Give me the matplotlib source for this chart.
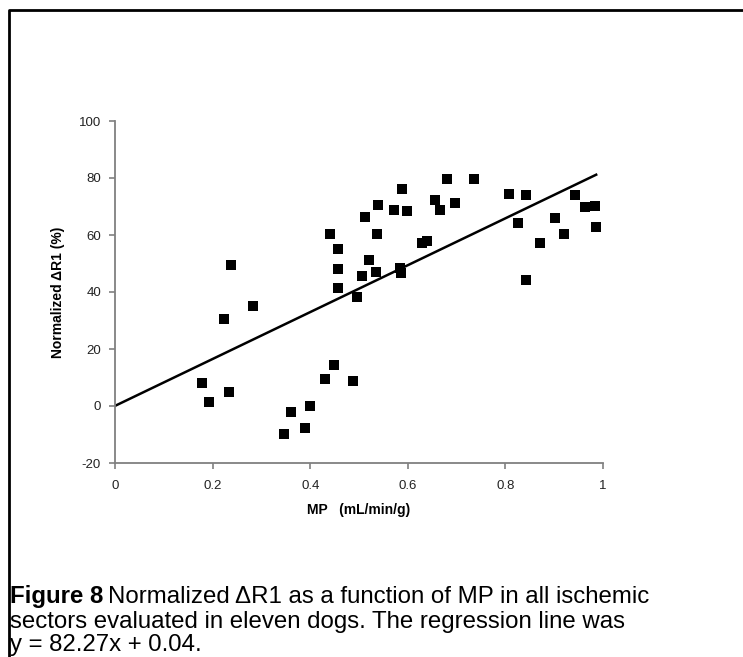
import matplotlib
matplotlib.use("Agg")
import matplotlib.pyplot as plt
from matplotlib.lines import Line2D
import numpy as np

# MP (mL/min/g) vs normalized delta R1 (%)
mp = [0.179, 0.193, 0.223, 0.237, 0.234, 0.282, 0.346, 0.361, 0.389, 0.400,
      0.430, 0.449, 0.441, 0.456, 0.456, 0.456, 0.487, 0.496, 0.506, 0.513,
      0.521, 0.535, 0.537, 0.538, 0.571, 0.588, 0.587, 0.585, 0.599, 0.630,
      0.640, 0.655, 0.665, 0.681, 0.696, 0.736, 0.807, 0.842, 0.825, 0.842,
      0.871, 0.902, 0.921, 0.943, 0.964, 0.984, 0.986]
dr1 = [8.2, 1.4, 30.6, 49.5, 5.0, 35.2, -9.9, -2.1, -7.7, 0.0,
       9.4, 14.3, 60.5, 55.2, 48.2, 41.3, 8.9, 38.1, 45.5, 66.2,
       51.1, 46.9, 60.2, 70.4, 68.7, 76.0, 46.6, 48.5, 68.4, 57.3,
       57.9, 72.3, 68.7, 79.5, 71.1, 79.6, 74.4, 74.0, 64.2, 44.1,
       57.1, 65.9, 60.4, 74.2, 69.7, 70.2, 62.9]
slope, intercept = 82.27, 0.04
xticks = [0, 0.2, 0.4, 0.6, 0.8, 1]
yticks = [-20, 0, 20, 40, 60, 80, 100]

plt.rcParams['font.family'] = ['Liberation Sans', 'DejaVu Sans']

W, H = 743, 657
fig = plt.figure(figsize=(W / 100, H / 100), dpi=100)
ax = fig.add_axes([115 / W, 1 - 463 / H, 488 / W, 342 / H])

ax.scatter(mp, dr1, marker='s', s=44, color='black', linewidths=0, zorder=3)
xl = np.array([0, max(mp)])
ax.plot(xl, slope * xl + intercept, color='black', lw=1.8)

ax.set_xlim(0, 1)
ax.set_ylim(-20, 100)
ax.set_xticks(xticks)
ax.set_xticklabels([f'{t:g}' for t in xticks])
ax.set_yticks(yticks)
ax.set_yticklabels([str(t) for t in yticks])
for s in ['top', 'right']:
    ax.spines[s].set_visible(False)
for s in ['left', 'bottom']:
    ax.spines[s].set_color('#808080')
    ax.spines[s].set_linewidth(1.3)
ax.tick_params(colors='#808080', labelcolor='#222222', labelsize=9.5, length=4, width=1.2)
ax.tick_params(axis='x', pad=8)
ax.tick_params(axis='y', pad=6)
ax.set_xlabel('MP   (mL/min/g)', fontsize=10, fontweight='bold', labelpad=8)
ax.set_ylabel('Normalized \u0394R1 (%)', fontsize=10, fontweight='bold', labelpad=10)

# frame around the figure panel (left and top edges visible)
fig.add_artist(Line2D([9 / W, 9 / W, 1], [0, 1 - 10 / H, 1 - 10 / H],
                      transform=fig.transFigure, color='black', lw=2))

cap_fs = 17.3
cap_y = 1 - 603 / H
t = fig.text(10 / W, cap_y, 'Figure 8', fontsize=cap_fs, fontweight='bold', va='baseline')
fig.canvas.draw()
bb = t.get_window_extent()
fig.text((bb.x1 + 5) / W, cap_y, 'Normalized \u0394R1 as a function of MP in all ischemic',
         fontsize=cap_fs, va='baseline')
fig.text(10 / W, 1 - 628 / H, 'sectors evaluated in eleven dogs. The regression line was',
         fontsize=cap_fs, va='baseline')
fig.text(10 / W, 1 - 651 / H, 'y = 82.27x + 0.04.', fontsize=cap_fs, va='baseline')

fig.savefig('out.png', dpi=100)
